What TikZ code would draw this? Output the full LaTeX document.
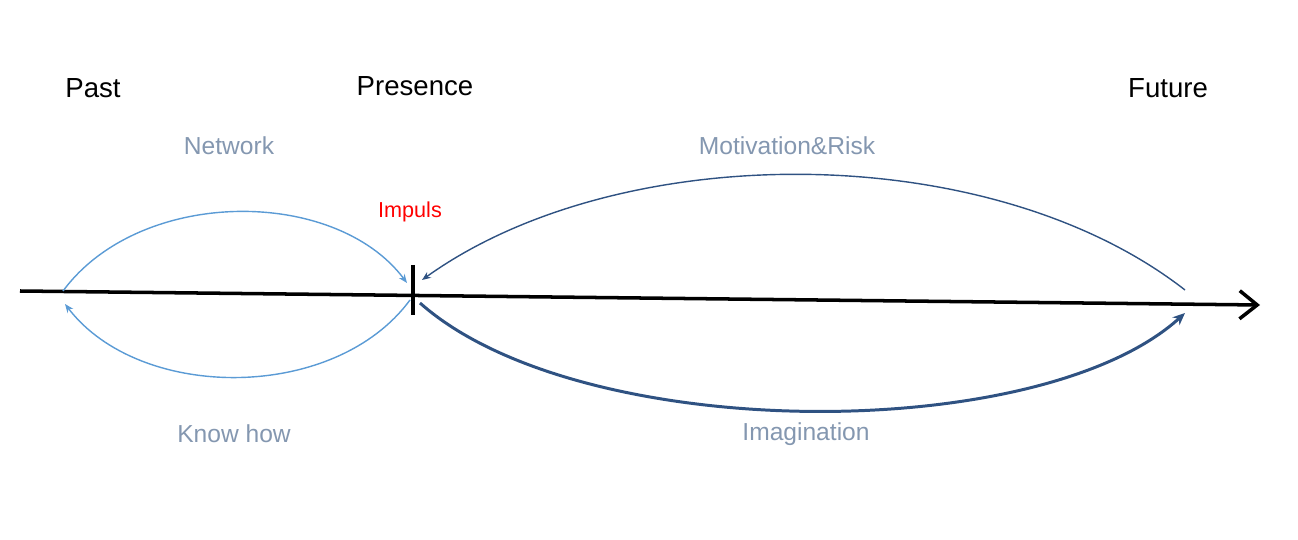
\documentclass[tikz,border=0pt]{standalone}
\usepackage{fontspec}
\setmainfont{Liberation Sans}
\usetikzlibrary{arrows.meta}
\definecolor{lightblue}{HTML}{5B9BD5}
\definecolor{darkblue}{HTML}{2F5282}
\definecolor{labelgray}{HTML}{8497B0}
\begin{document}
\begin{tikzpicture}[x=0.02cm, y=-0.02cm]
			\tikzset{time/.style={font=\fontsize{15.7}{18}\selectfont, text=black},
				label/.style={font=\fontsize{14}{16}\selectfont, text=labelgray},
				thin arc/.style={line width=0.8pt, -{Stealth[length=5pt, width=4pt]}}}
			\useasboundingbox (0,0) rectangle (1298,540);
			
			\coordinate (start) at (20,291);
			\coordinate (end) at (1260,305);
			\coordinate (past) at (63,291);
			\coordinate (future) at (1185,290);
			\coordinate (tick top) at (413,265);
			\coordinate (tick bottom) at (413,315);
			\draw[line width=2pt, -{Straight Barb[length=10pt, width=16pt, line width=2pt]}] (start)--(end);
			\draw[line width=2.2pt] (tick top)--(tick bottom);
			
			\node[time] (tpast) at (93,88) {Past};
			\node[time] (tnow) at (415,86) {Presence};
			\node[time] (tfuture) at (1168,88) {Future};
			\node[label] (lnet) at (229,146) {Network};
			\node[label] (lmot) at (787,146) {Motivation\&Risk};
			\node[label] (lknow) at (234,434) {Know how};
			\node[label] (limag) at (806,434) {Imagination};
			\node[font=\fontsize{12.3}{14}\selectfont, text=red] (impuls) at (410,212) {Impuls};
			
			\draw[thin arc, lightblue] (past) .. controls (140,187) and (335,187) .. (407,283);
			\draw[thin arc, lightblue] (410,300) .. controls (335,402) and (140,402) .. (65,304);
			\draw[thin arc, darkblue] (future) .. controls (990,138) and (620,138) .. (422,280);
			\draw[darkblue, line width=1.7pt, -{Stealth[length=7pt, width=6pt]}] (420,303) .. controls (580,445) and (1040,445) .. (1185,313);
		\end{tikzpicture}
\end{document}
